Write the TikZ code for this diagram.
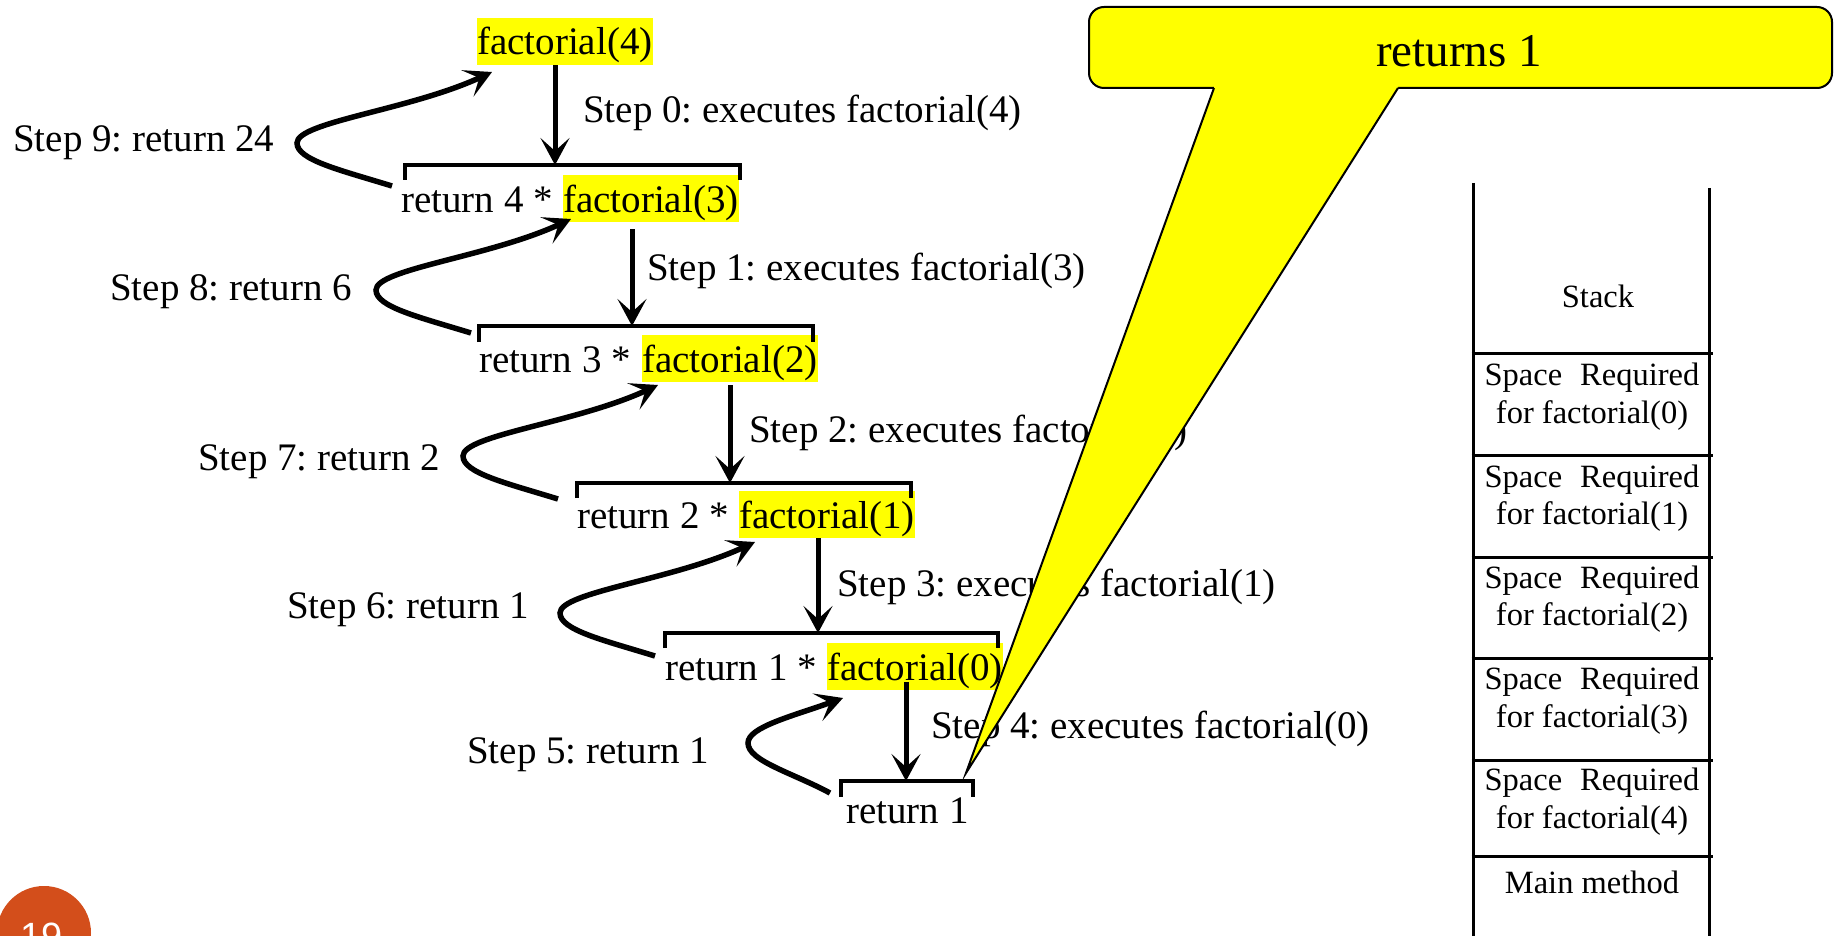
\documentclass[tikz,border=0pt]{standalone}
\usepackage{fontspec}
\setmainfont{Liberation Serif}
\newfontfamily\numfont{Liberation Sans}
\usetikzlibrary{arrows.meta,calc}
\definecolor{hlyellow}{RGB}{255,255,0}
\definecolor{slideorange}{RGB}{211,78,27}
\frenchspacing
\tikzset{
  lbl/.style={font=\fontsize{39}{47}\selectfont, inner sep=0pt, anchor=base west},
  hl/.style={lbl, fill=hlyellow, text height=37pt, text depth=10pt},
  callarrow/.style={line width=5pt, -{Stealth[length=27pt,width=29pt,inset=13pt]}},
  retarrow/.style={line width=5.5pt, -{Stealth[length=27pt,width=29pt,inset=13pt]}},
  bracketline/.style={line width=3.2pt},
  stackline/.style={line width=3pt},
  stacktxt/.style={font=\fontsize{32.5}{38}\selectfont, inner sep=0pt, anchor=base},
  calltxt/.style={font=\fontsize{47}{56}\selectfont, inner sep=0pt, anchor=base},
}
\begin{document}
\frenchspacing
\begin{tikzpicture}[x=1pt,y=-1pt]
\path[use as bounding box] (0,0) rectangle (1841,936);
\clip (0,0) rectangle (1841,936);
\fill[white] (0,0) rectangle (1841,936);

% ---- call rows ----
\node[hl] (f4) at (477,55) {factorial(4)};
\node[lbl] (r4) at (401,212) {return 4 *};
\node[hl] (f3) at (563,212) {factorial(3)};
\node[lbl] (r3) at (479,372) {return 3 *};
\node[hl] (f2) at (642,372) {factorial(2)};
\node[lbl] (r2) at (577,528) {return 2 *};
\node[hl] (f1) at (739,528) {factorial(1)};
\node[lbl] (r1) at (665,680) {return 1 *};
\node[hl] (f0) at (827,680) {factorial(0)};
\node[lbl] (ret) at (846,823) {return 1};

% ---- brackets ----
\draw[bracketline] (405,180) -- (405,165) -- (740,165) -- (740,180);
\draw[bracketline] (479,342) -- (479,326) -- (813,326) -- (813,342);
\draw[bracketline] (577,498) -- (577,483) -- (911,483) -- (911,498);
\draw[bracketline] (665,648) -- (665,633) -- (998,633) -- (998,648);
\draw[bracketline] (841,797) -- (841,781) -- (973,781) -- (973,797);
\coordinate (b1) at (555,165);
\coordinate (b2) at (632,326);
\coordinate (b3) at (730,483);
\coordinate (b4) at (818,633);
\coordinate (b5) at (906,781);

% ---- step labels ----
\node[lbl] (s0) at (583,123) {Step 0: executes factorial(4)};
\node[lbl] (s1) at (647,280) {Step 1: executes factorial(3)};
\node[lbl] (s2) at (749,442) {Step 2: executes factorial(2)};
\node[lbl] (s3) at (837,596) {Step 3: executes factorial(1)};
\node[lbl] (s4) at (931,738) {Step 4: executes factorial(0)};
\node[lbl] (s9) at (13,152) {Step 9: return 24};
\node[lbl] (s8) at (110,300) {Step 8: return 6};
\node[lbl] (s7) at (198,470) {Step 7: return 2};
\node[lbl] (s6) at (287,618) {Step 6: return 1};
\node[lbl] (s5) at (467,763) {Step 5: return 1};

% ---- call arrows ----
\draw[callarrow] (f4.south -| b1) -- (b1);
\draw[callarrow] ($(f3.south -| b2)+(0,7)$) -- (b2);
\draw[callarrow] ($(f2.south -| b3)+(0,3)$) -- (b3);
\draw[callarrow] (f1.south -| b4) -- (b4);
\draw[callarrow] ($(f0.south -| b5)+(0,-8)$) -- (b5);

% ---- return arrows ----
\coordinate (a9) at (392,186); \coordinate (l9) at (297,143); \coordinate (t9) at (492,72);
\coordinate (a8) at (471,333); \coordinate (l8) at (376,290); \coordinate (t8) at (571,219);
\coordinate (a7) at (558,499); \coordinate (l7) at (463,456); \coordinate (t7) at (658,385);
\coordinate (a6) at (655,656); \coordinate (l6) at (560,613); \coordinate (t6) at (755,542);
\coordinate (a5) at (830,793); \coordinate (l5) at (748,743); \coordinate (t5) at (843,698);
\foreach \k in {9,8,7,6}{
  \draw[retarrow] (a\k) .. controls +(-52,-16) and +(0,17) .. (l\k)
                        .. controls +(0,-21) and +(-82,38) .. (t\k);
}
\draw[retarrow] (a5) .. controls +(-37,-20) and +(0,18) .. (l5)
                     .. controls +(0,-16) and +(-50,18) .. (t5);

% ---- stack ----
\draw[stackline] (1473,183) -- (1473,940);
\draw[stackline] (1709,188) -- (1709,940);
\foreach \yy in {353,455,557,658,760,856}{
  \draw[stackline] (1471.5,\yy) -- (1713,\yy);
}
\node[stacktxt] (stk) at (1598,307) {Stack};
\node[stacktxt] (q0a) at (1592,385) {Space\hspace{18pt}Required};
\node[stacktxt] (q0b) at (1592,423) {for factorial(0)};
\node[stacktxt] (q1a) at (1592,487) {Space\hspace{18pt}Required};
\node[stacktxt] (q1b) at (1592,524) {for factorial(1)};
\node[stacktxt] (q2a) at (1592,588) {Space\hspace{18pt}Required};
\node[stacktxt] (q2b) at (1592,625) {for factorial(2)};
\node[stacktxt] (q3a) at (1592,689) {Space\hspace{18pt}Required};
\node[stacktxt] (q3b) at (1592,727) {for factorial(3)};
\node[stacktxt] (q4a) at (1592,790) {Space\hspace{18pt}Required};
\node[stacktxt] (q4b) at (1592,828) {for factorial(4)};
\node[stacktxt] (mm) at (1592,893) {Main method};

% ---- callout ----
\draw[line width=2pt, fill=hlyellow, rounded corners=15pt] (1089,7) rectangle (1832,88);
\fill[hlyellow] (1214,84) -- (1398,84) -- (1398,88) -- (966,773) -- (1214,88) -- cycle;
\draw[line width=2pt] (1214,88) -- (966,773) -- (1398,88);
\node[calltxt] (cl) at (1459,67) {returns 1};

% ---- slide number ----
\fill[slideorange] (44,933) circle[radius=47pt];
\node[font=\numfont\fontsize{38}{44}\selectfont, text=white, inner sep=0pt, anchor=base] (pg) at (42,949) {19};
\end{tikzpicture}
\end{document}
